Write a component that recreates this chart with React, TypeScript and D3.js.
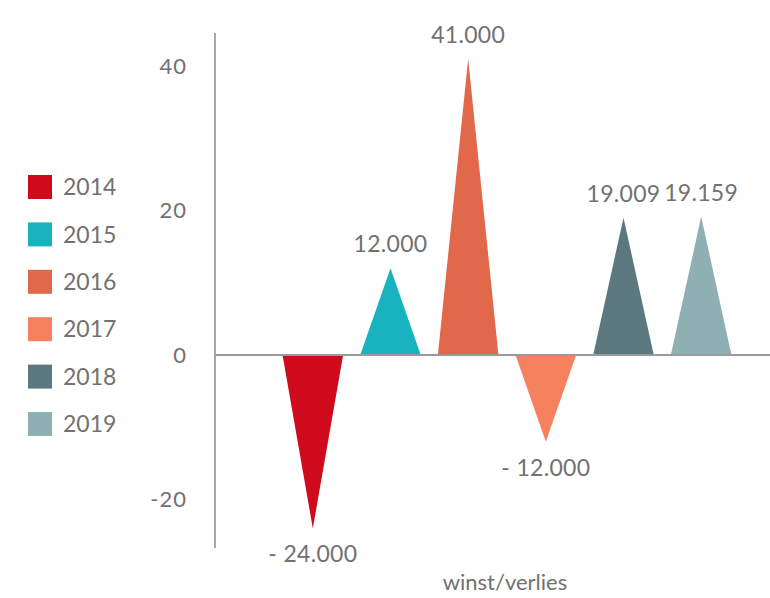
import React, { useEffect, useRef } from 'react'
import * as d3 from 'd3'

const years = ['2014', '2015', '2016', '2017', '2018', '2019']
const values = [-24, 12, 41, -12, 19.009, 19.159]
const valueLabels = ['- 24.000', '12.000', '41.000', '- 12.000', '19.009', '19.159']
const colors = ['#cf0a1c', '#19b3bf', '#e2684b', '#f6815e', '#5b787e', '#8fb0b2']
const yTicks = [-20, 0, 20, 40]
const axisTitle = 'winst/verlies'

const width = 770
const height = 598
const textColor = '#717171'
const font = 'Lato, "Open Sans", sans-serif'

const App: React.FC = () => {
  const svgRef = useRef<SVGSVGElement>(null)

  useEffect(() => {
    if (!svgRef.current) return
    const svg = d3.select(svgRef.current)
    svg.selectAll('*').remove()

    const axisX = 215

    // Scales
    const yScale = d3.scaleLinear()
      .domain([-20, 40])
      .range([499.5, 66])

    const xScale = d3.scaleBand<string>()
      .domain(years)
      .range([274, 740])
      .padding(0)

    const half = xScale.step() * 0.39

    // Y axis line
    svg.append('line')
      .attr('x1', axisX).attr('x2', axisX)
      .attr('y1', 33).attr('y2', 548)
      .attr('stroke', '#a8a8a8')
      .attr('stroke-width', 2)

    // Tick labels
    svg.selectAll('.tick-label')
      .data(yTicks)
      .enter().append('text')
      .attr('class', 'tick-label')
      .attr('x', 187)
      .attr('y', d => yScale(d))
      .attr('dy', '0.36em')
      .attr('text-anchor', 'end')
      .attr('fill', textColor)
      .style('font-family', font)
      .style('font-size', '22px')
      .style('letter-spacing', '1px')
      .text(d => d)

    // Triangles
    const zero = yScale(0)
    svg.selectAll('.tri')
      .data(values)
      .enter().append('path')
      .attr('class', 'tri')
      .attr('d', (d, i) => {
        const cx = (xScale(years[i]) as number) + xScale.bandwidth() / 2
        return `M${cx - half},${zero}L${cx},${yScale(d)}L${cx + half},${zero}Z`
      })
      .attr('fill', (d, i) => colors[i])

    // Zero line
    svg.append('line')
      .attr('x1', axisX).attr('x2', width)
      .attr('y1', zero).attr('y2', zero)
      .attr('stroke', '#9a9a9a')
      .attr('stroke-width', 2)

    // Value labels
    svg.selectAll('.val')
      .data(values)
      .enter().append('text')
      .attr('class', 'val')
      .attr('x', (d, i) => (xScale(years[i]) as number) + xScale.bandwidth() / 2)
      .attr('y', d => d >= 0 ? yScale(d) - 16 : yScale(d) + 34)
      .attr('text-anchor', 'middle')
      .attr('fill', textColor)
      .style('font-family', font)
      .style('font-size', '23px')
      .style('letter-spacing', '0.3px')
      .text((d, i) => valueLabels[i])

    // Axis title
    svg.append('text')
      .attr('x', 505)
      .attr('y', 590)
      .attr('text-anchor', 'middle')
      .attr('fill', textColor)
      .style('font-family', font)
      .style('font-size', '22px')
      .text(axisTitle)

    // Legend
    const legend = svg.append('g')
      .attr('transform', 'translate(28, 175)')

    const item = legend.selectAll('.item')
      .data(years)
      .enter().append('g')
      .attr('class', 'item')
      .attr('transform', (d, i) => `translate(0, ${i * 47.4})`)

    item.append('rect')
      .attr('width', 24)
      .attr('height', 24)
      .attr('fill', (d, i) => colors[i])

    item.append('text')
      .attr('x', 35)
      .attr('y', 12)
      .attr('dy', '0.36em')
      .attr('fill', textColor)
      .style('font-family', font)
      .style('font-size', '23px')
      .text(d => d)
  }, [])

  return (
    <svg
      ref={svgRef}
      width={width}
      height={height}
      style={{ position: 'absolute', left: 0, top: 0, background: '#fff' }}
    />
  )
}

export default App
